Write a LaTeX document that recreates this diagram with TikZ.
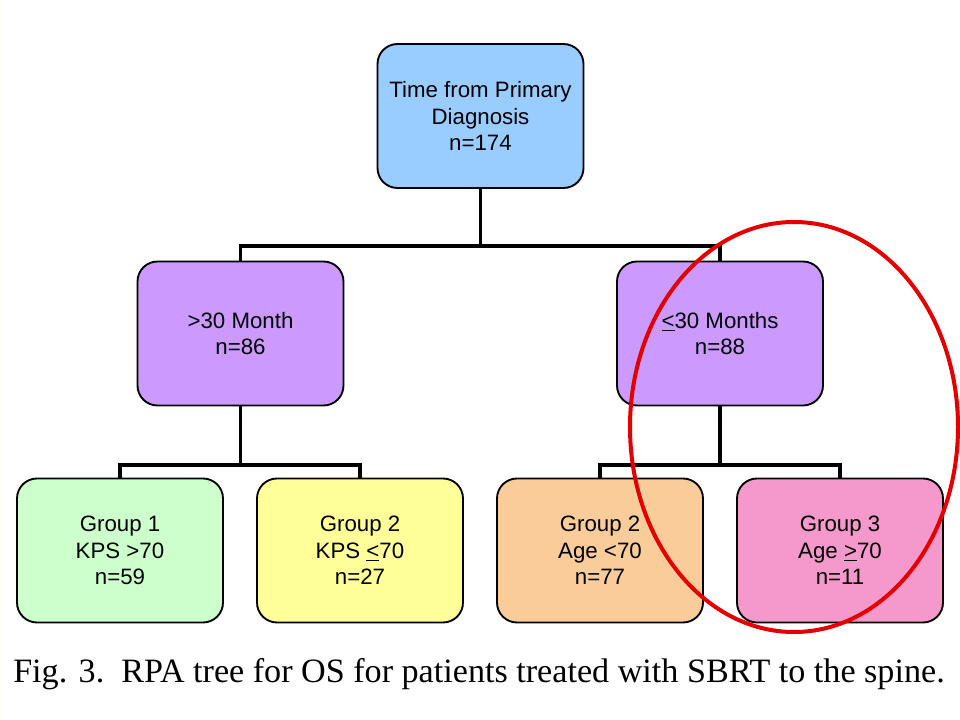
\documentclass[tikz,border=0pt]{standalone}
\usepackage{fontspec}
\setmainfont{Liberation Serif}
\newfontfamily\boxfont{Liberation Sans}
\begin{document}
\begin{tikzpicture}[x=0.75pt,y=-0.75pt,
  box/.style={draw=black, line width=1.4pt, rounded corners=15pt, minimum width=206*0.75pt,
    minimum height=144*0.75pt, inner sep=0pt, align=center,
    font=\boxfont\fontsize{16.7pt}{20pt}\selectfont, text=black},
  conn/.style={draw=black, line width=2.8pt},
  ring/.style={draw=red!90!black, line width=3pt}]
\useasboundingbox (0,0) rectangle (960,720);
\fill[white] (0,0) rectangle (960,720);
\fill[black!5!yellow!3] (0,0) rectangle (3,720);
% nodes
\node[box, fill={rgb,255:red,153;green,204;blue,255}] (top) at (480.5,116) {Time from Primary\\Diagnosis\\n=174};
\node[box, fill={rgb,255:red,204;green,153;blue,255}] (ml) at (240.5,333.5) {>30 Month\\n=86};
\node[box, fill={rgb,255:red,204;green,153;blue,255}] (mr) at (720,333.5) {\underline{<}30 Months\\n=88};
\node[box, fill={rgb,255:red,204;green,255;blue,204}] (g1) at (120,550.5) {Group 1\\KPS >70\\n=59};
\node[box, fill={rgb,255:red,255;green,255;blue,153}] (g2) at (360,550.5) {Group 2\\KPS \underline{<}70\\n=27};
\node[box, fill={rgb,255:red,250;green,204;blue,153}] (g3) at (600,550.5) {Group 2\\Age <70\\n=77};
\node[box, fill={rgb,255:red,245;green,153;blue,204}] (g4) at (840,550.5) {Group 3\\Age \underline{>}70\\n=11};
% junctions
\coordinate (j1) at (480.5,246);
\coordinate (j2) at (240.5,465);
\coordinate (j3) at (720,465);
% connectors
\draw[conn] (top.south) -- (j1);
\draw[conn] (ml.north) |- (j1) -| (mr.north);
\draw[conn] (ml.south) -- (j2);
\draw[conn] (g1.north) |- (j2) -| (g2.north);
\draw[conn] (mr.south) -- (j3);
\draw[conn] (g3.north) |- (j3) -| (g4.north);
% highlight ring
\draw[ring] (794,427) ellipse [x radius=164, y radius=205];
% caption
\node[anchor=base west, inner sep=0pt, font=\fontsize{25.6pt}{29pt}\selectfont] (cap) at (13,682)
  {Fig. 3.\ \ RPA tree for OS for patients treated with SBRT to the spine.};
\end{tikzpicture}
\end{document}
